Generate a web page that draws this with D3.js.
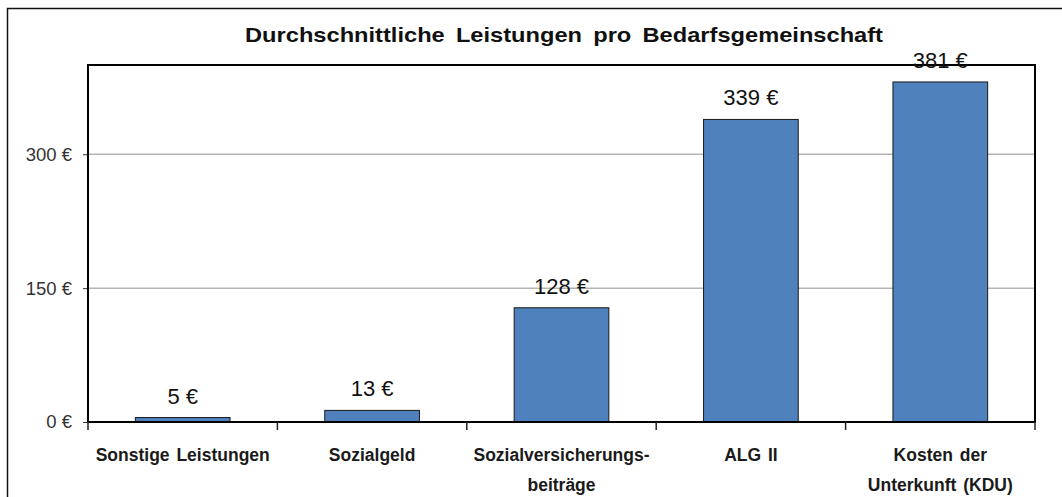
<!DOCTYPE html>
<html>
<head>
<meta charset="utf-8">
<script src="https://cdn.jsdelivr.net/npm/d3@7"></script>
<style>
  body { margin: 0; background: #fff; }
  svg { display: block; font-family: "Liberation Sans", Arial, sans-serif; }
</style>
</head>
<body>
<svg id="chart"></svg>
<script>
const categories = [
  ["Sonstige Leistungen"],
  ["Sozialgeld"],
  ["Sozialversicherungs-", "beiträge"],
  ["ALG II"],
  ["Kosten der", "Unterkunft (KDU)"]
]
const values = [5, 13, 128, 339, 381]
const yTicks = [0, 150, 300]

const width = 1062
const height = 497
const margin = { top: 65, right: 27, bottom: 75, left: 88 }
const innerWidth = width - margin.left - margin.right
const innerHeight = 422 - margin.top

const svg = d3.select('#chart')
  .attr('width', width)
  .attr('height', height)

// outer frame, runs off the right and bottom edge
svg.append('rect')
  .attr('x', 7.5).attr('y', 8.5)
  .attr('width', width + 20).attr('height', height + 20)
  .attr('fill', 'none').attr('stroke', '#111').attr('stroke-width', 1.5)

// title looks stretched in the original, so fit it to its width
svg.append('text')
  .attr('x', 564).attr('y', 42)
  .attr('text-anchor', 'middle')
  .attr('textLength', 638).attr('lengthAdjust', 'spacingAndGlyphs')
  .style('font-size', '20.5px').style('font-weight', 'bold')
  .style('word-spacing', '4px')
  .attr('fill', '#111')
  .text('Durchschnittliche Leistungen pro Bedarfsgemeinschaft')

const g = svg.append('g').attr('transform', `translate(${margin.left},${margin.top})`)

const x = d3.scaleBand()
  .domain(d3.range(values.length))
  .range([0, innerWidth])
  .paddingInner(0.5).paddingOuter(0.25)

const y = d3.scaleLinear().domain([0, 400]).range([innerHeight, 0])

// gridlines
g.selectAll('.grid')
  .data(yTicks.filter(d => d > 0))
  .enter().append('line')
  .attr('x1', 0).attr('x2', innerWidth)
  .attr('y1', d => y(d)).attr('y2', d => y(d))
  .attr('stroke', '#b4b4b4').attr('stroke-width', 1.5)

// y axis
const yAxis = g.append('g')
  .call(d3.axisLeft(y).tickValues(yTicks).tickSize(5).tickPadding(11).tickFormat(d => d + ' €'))
yAxis.select('.domain').remove()
yAxis.selectAll('line').attr('stroke', '#333')
yAxis.selectAll('text').style('font-size', '18.5px').attr('fill', '#333')

// bars
g.selectAll('.bar')
  .data(values)
  .enter().append('rect')
  .attr('class', 'bar')
  .attr('x', (d, i) => x(i))
  .attr('width', x.bandwidth())
  .attr('y', d => y(d))
  .attr('height', d => y(0) - y(d))
  .attr('fill', '#4F81BD')
  .attr('stroke', '#1a1a1a').attr('stroke-width', 1)

// plot frame
g.append('rect')
  .attr('x', 0).attr('y', 0)
  .attr('width', innerWidth).attr('height', innerHeight)
  .attr('fill', 'none').attr('stroke', '#000').attr('stroke-width', 2)

// x axis with ticks between categories
const step = innerWidth / values.length
g.selectAll('.xtick')
  .data(d3.range(values.length + 1))
  .enter().append('line')
  .attr('x1', i => i * step).attr('x2', i => i * step)
  .attr('y1', innerHeight).attr('y2', innerHeight + 8)
  .attr('stroke', '#222').attr('stroke-width', 1.5)

const labels = g.selectAll('.xlabel')
  .data(categories)
  .enter().append('text')
  .attr('text-anchor', 'middle')
  .attr('transform', (d, i) => `translate(${x(i) + x.bandwidth() / 2},${innerHeight + 39})`)
  .style('font-size', '17.5px').style('font-weight', 'bold')
  .style('word-spacing', '2px')
  .attr('fill', '#1a1a1a')
labels.selectAll('tspan')
  .data(d => d)
  .enter().append('tspan')
  .attr('x', 0)
  .attr('dy', (d, i) => i === 0 ? 0 : 30)
  .text(d => d)

// value labels
g.selectAll('.val')
  .data(values)
  .enter().append('text')
  .attr('x', (d, i) => x(i) + x.bandwidth() / 2)
  .attr('y', d => y(d) - 14)
  .attr('text-anchor', 'middle')
  .style('font-size', '22px')
  .attr('fill', '#111')
  .text(d => d + ' €')
</script>
</body>
</html>
